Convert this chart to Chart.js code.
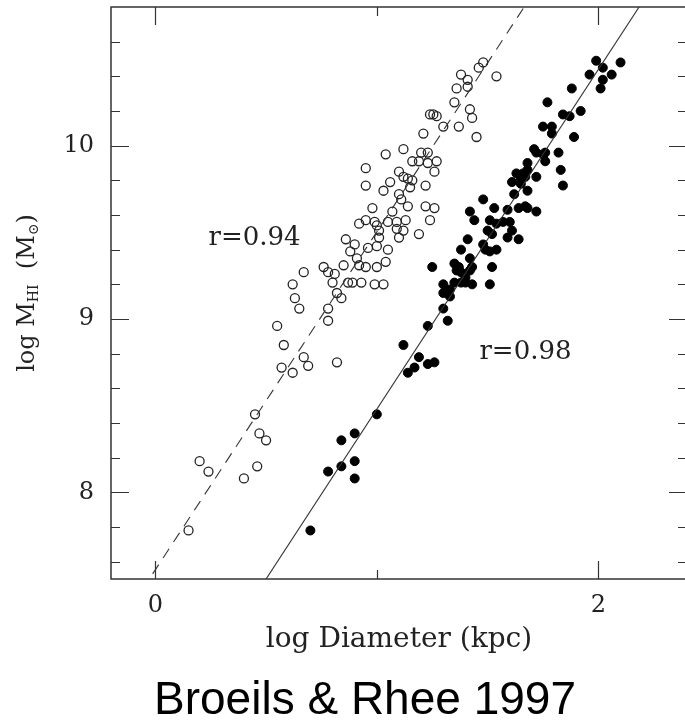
<!DOCTYPE html>
<html>
<head>
<meta charset="utf-8">
<script src="https://cdn.jsdelivr.net/npm/chart.js@4.4.0/dist/chart.umd.min.js"></script>
<style>
html,body{margin:0;padding:0;background:#fff;overflow:hidden;}
</style>
</head>
<body>
<canvas id="myChart" width="700" height="724"></canvas>
<script>
// open circles (dashed fit)
const xOpen=[0.15,0.20,0.24,0.40,0.46,0.45,0.47,0.50,0.57,0.62,0.67,0.69,0.82,0.58,0.55,0.65,0.63,0.62,0.67,0.78,
  0.78,0.82,0.84,0.76,0.78,0.81,0.80,0.85,0.87,0.89,0.88,0.86,0.90,0.91,0.95,0.92,0.93,0.99,1.03,1.00,
  1.04,0.96,1.00,1.01,1.05,0.92,0.95,0.98,0.99,1.01,1.00,1.05,1.07,1.09,1.09,1.10,1.12,1.13,1.14,1.11,
  1.10,1.03,1.06,0.95,0.95,1.04,1.12,1.10,1.12,1.14,1.16,1.15,1.22,1.19,1.22,1.26,1.24,1.16,1.19,1.20,
  1.23,1.23,1.27,1.26,1.21,1.24,1.255,1.27,1.30,1.37,1.45,1.35,1.42,1.43,1.36,1.41,1.41,1.38,1.46,1.48,1.54];
const yOpen=[7.78,8.18,8.12,8.08,8.15,8.45,8.34,8.30,8.72,8.69,8.78,8.73,8.75,8.85,8.96,9.06,9.12,9.20,9.27,9.06,
  8.99,9.15,9.12,9.30,9.27,9.26,9.21,9.31,9.21,9.21,9.39,9.46,9.43,9.35,9.30,9.31,9.21,9.20,9.20,9.30,
  9.33,9.41,9.42,9.47,9.40,9.55,9.57,9.64,9.56,9.51,9.54,9.56,9.62,9.56,9.52,9.47,9.51,9.57,9.65,9.69,
  9.72,9.74,9.79,9.77,9.87,9.95,9.98,9.85,9.82,9.81,9.80,9.76,9.77,9.49,9.65,9.64,9.57,9.91,9.91,9.96,
  9.96,9.90,9.91,9.85,10.07,10.18,10.18,10.17,10.11,10.11,10.05,10.25,10.21,10.16,10.33,10.34,10.38,10.41,10.45,10.48,10.40];

// filled circles (solid fit)
const xFilled=[0.70,0.78,0.84,0.90,0.90,0.84,0.90,1.00,1.12,1.14,1.17,1.19,1.23,1.26,1.23,1.32,1.30,1.30,1.30,1.33,
  1.35,1.38,1.40,1.43,1.51,1.25,1.36,1.35,1.38,1.41,1.38,1.40,1.42,1.43,1.48,1.49,1.51,1.54,1.52,1.48,
  1.42,1.44,1.53,1.51,1.50,1.54,1.57,1.60,1.59,1.61,1.59,1.64,1.64,1.68,1.72,1.61,1.62,1.65,1.63,1.68,
  1.67,1.68,1.72,1.72,1.75,1.76,1.82,1.83,1.84,1.99,2.10,2.02,1.96,2.06,2.02,2.01,1.88,1.77,1.84,1.87,
  1.92,1.75,1.79,1.79,1.89,1.71,1.76,1.66,1.65,1.68,1.67,1.42,1.52,1.33,1.37];
const yFilled=[7.78,8.12,8.15,8.18,8.08,8.30,8.34,8.45,8.85,8.69,8.72,8.78,8.74,8.75,8.96,8.99,9.06,9.15,9.20,9.13,
  9.21,9.21,9.21,9.20,9.20,9.30,9.28,9.32,9.40,9.46,9.27,9.24,9.35,9.30,9.43,9.40,9.39,9.40,9.30,9.69,
  9.62,9.57,9.64,9.57,9.51,9.55,9.56,9.56,9.63,9.51,9.47,9.46,9.64,9.64,9.62,9.79,9.72,9.78,9.84,9.90,
  9.82,9.74,9.82,9.96,9.95,9.91,9.96,9.86,9.77,10.49,10.48,10.45,10.41,10.41,10.38,10.33,10.33,10.25,10.18,10.17,
  10.20,10.11,10.11,10.07,10.05,9.98,9.96,9.84,9.81,9.86,9.65,9.28,9.49,9.17,9.30];

// fits: [slope, intercept]
const fitOpen=[1.95,7.553];
const fitFilled=[1.96,6.52];
const fitRange=[-0.2,2.4];

const xMajor=[0,2];
const xMinor=[1];
const yMajor=[8,9,10];
const yMinor=[7.6,7.8,8.2,8.4,8.6,8.8,9.2,9.4,9.6,9.8,10.2,10.4,10.6];

const notes=[{text:'r=0.94',x:0.448,y:9.467},{text:'r=0.98',x:1.671,y:8.81}];

const serif='"DejaVu Serif", serif';

function pts(xs,ys){
  return xs.map((v,i)=>({x:v,y:ys[i]}));
}
function fitLine(f){
  return fitRange.map(v=>({x:v,y:f[0]*v+f[1]}));
}

const frame={
  id:'frame',
  afterDraw(chart){
    const {ctx,chartArea:a,scales:{x,y}}=chart;
    ctx.save();
    ctx.strokeStyle='#333';
    ctx.lineWidth=1.5;
    ctx.strokeRect(a.left,a.top,a.right-a.left,a.bottom-a.top);
    ctx.lineWidth=1.2;
    ctx.beginPath();
    const xt=xMajor.map(v=>[v,18]).concat(xMinor.map(v=>[v,9]));
    xt.forEach(([v,len])=>{
      const px=Math.round(x.getPixelForValue(v))+0.5;
      ctx.moveTo(px,a.bottom);ctx.lineTo(px,a.bottom-len);
      ctx.moveTo(px,a.top);ctx.lineTo(px,a.top+len);
    });
    const yt=yMajor.map(v=>[v,18]).concat(yMinor.map(v=>[v,9]));
    yt.forEach(([v,len])=>{
      const py=Math.round(y.getPixelForValue(v))+0.5;
      ctx.moveTo(a.left,py);ctx.lineTo(a.left+len,py);
      ctx.moveTo(a.right,py);ctx.lineTo(a.right-len,py);
    });
    ctx.stroke();

    // r labels
    ctx.fillStyle='#222';
    ctx.font='26px '+serif;
    ctx.textAlign='center';
    ctx.textBaseline='middle';
    notes.forEach(n=>{
      ctx.fillText(n.text,x.getPixelForValue(n.x),y.getPixelForValue(n.y));
    });

    // y title with subscripts
    const big='24px '+serif, small='14px '+serif;
    const parts=[['log M',big,0],['HI',small,6],['  (M',big,0],['\u2299',small,6],[')',big,0]];
    let total=0;
    parts.forEach(p=>{ctx.font=p[1];total+=ctx.measureText(p[0]).width;});
    ctx.translate(28,(a.top+a.bottom)/2);
    ctx.rotate(-Math.PI/2);
    ctx.textAlign='left';
    let cx=-total/2;
    parts.forEach(p=>{
      ctx.font=p[1];
      ctx.fillText(p[0],cx,p[2]);
      cx+=ctx.measureText(p[0]).width;
    });
    ctx.restore();
  }
};

const ctx=document.getElementById('myChart');
new Chart(ctx,{
  type:'scatter',
  data:{
    datasets:[
      {data:fitLine(fitOpen),showLine:true,pointRadius:0,borderColor:'#333',borderWidth:1.1,borderDash:[11,8]},
      {data:fitLine(fitFilled),showLine:true,pointRadius:0,borderColor:'#333',borderWidth:1.1},
      {data:pts(xOpen,yOpen),pointRadius:4.5,borderWidth:1.3,borderColor:'#222',backgroundColor:'rgba(0,0,0,0)'},
      {data:pts(xFilled,yFilled),pointRadius:4.5,borderWidth:1,borderColor:'#000',backgroundColor:'#000'}
    ]
  },
  options:{
    responsive:false,
    animation:false,
    devicePixelRatio:1,
    layout:{padding:{left:43,right:13,top:7,bottom:0}},
    plugins:{
      legend:{display:false},
      tooltip:{enabled:false},
      title:{
        display:true,
        text:'Broeils & Rhee 1997',
        position:'bottom',
        color:'#000',
        font:{family:'"Liberation Sans", sans-serif',size:46,weight:'normal',lineHeight:1.0},
        padding:{top:8,bottom:0}
      }
    },
    scales:{
      x:{
        type:'linear',
        min:-0.2,max:2.4,
        afterFit:s=>{s.height=91;s.paddingLeft=0;s.paddingRight=0;s.paddingTop=0;s.paddingBottom=0;},
        afterBuildTicks:s=>{s.ticks=xMajor.map(v=>({value:v}));},
        grid:{display:false,drawTicks:false},
        border:{display:false},
        ticks:{autoSkip:false,maxRotation:0,padding:12,color:'#222',font:{family:serif,size:24}},
        title:{display:true,text:'log Diameter (kpc)',color:'#222',font:{family:serif,size:28},padding:{top:0,bottom:13}}
      },
      y:{
        type:'linear',
        min:7.5,max:10.8,
        afterFit:s=>{s.width=68;s.paddingLeft=0;s.paddingRight=0;s.paddingTop=0;s.paddingBottom=0;},
        afterBuildTicks:s=>{s.ticks=yMajor.map(v=>({value:v}));},
        grid:{display:false,drawTicks:false},
        border:{display:false},
        ticks:{autoSkip:false,padding:17,color:'#222',font:{family:serif,size:24}}
      }
    }
  },
  plugins:[frame]
});
</script>
</body>
</html>
